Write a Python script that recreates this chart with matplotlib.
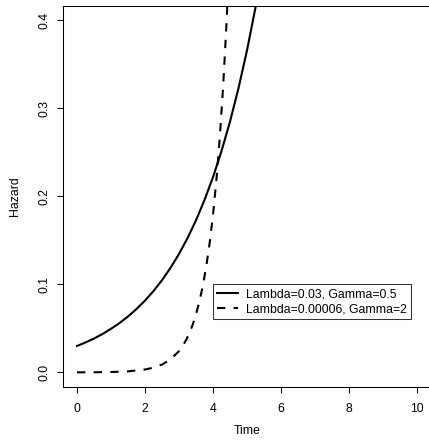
import matplotlib
matplotlib.use("Agg")
import matplotlib.pyplot as plt

plt.rcParams['font.family'] = ['Liberation Sans', 'DejaVu Sans']

# hazard values
time1 = [0, 0.25, 0.5, 0.75, 1, 1.25, 1.5, 1.75, 2, 2.25, 2.5, 2.75, 3,
         3.25, 3.5, 3.75, 4, 4.25, 4.5, 4.75, 5, 5.25, 5.5]
haz1 = [0.030, 0.034, 0.0385, 0.0436, 0.0495, 0.0560, 0.0635, 0.0720, 0.0815,
        0.0924, 0.1047, 0.1187, 0.1345, 0.1524, 0.1727, 0.1957, 0.2217,
        0.2513, 0.2847, 0.3227, 0.3656, 0.4143, 0.4695]

time2 = [0, 0.5, 1, 1.5, 2, 2.25, 2.5, 2.75, 3, 3.1, 3.2, 3.3, 3.4, 3.5,
         3.6, 3.7, 3.8, 3.9, 4, 4.1, 4.2, 4.3, 4.4, 4.5]
haz2 = [0.00006, 0.00016, 0.00044, 0.0012, 0.0033, 0.0054, 0.0089, 0.0147,
        0.0242, 0.0296, 0.0361, 0.0441, 0.0539, 0.0658, 0.0804, 0.0982,
        0.1199, 0.1465, 0.1789, 0.2185, 0.2669, 0.3260, 0.3982, 0.4863]

labels = ["Lambda=0.03, Gamma=0.5", "Lambda=0.00006, Gamma=2"]
xticks = [0, 2, 4, 6, 8, 10]
yticks = [0.0, 0.1, 0.2, 0.3, 0.4]

fs = 8.8

fig = plt.figure(figsize=(4.29, 4.44), dpi=100)
ax = fig.add_axes([63.4/429, 57.5/444, 367.2/429, 380.5/444])

ax.plot(time1, haz1, color='black', lw=1.5, label=labels[0])
ax.plot(time2, haz2, color='black', lw=1.5, dashes=(4, 4), label=labels[1])

ax.set_xlim(-0.4, 10.4)
ax.set_ylim(-0.016, 0.416)
ax.set_xticks(xticks)
ax.set_xticklabels([str(t) for t in xticks])
ax.set_yticks(yticks)
ax.set_yticklabels([f"{t:.1f}" for t in yticks], rotation=90, va='center')
ax.tick_params(direction='out', length=4.5, width=0.75, labelsize=fs)
ax.tick_params(axis='x', pad=7.5)
ax.tick_params(axis='y', pad=4.5)
for s in ax.spines.values():
    s.set_linewidth(0.75)

ax.set_xlabel("Time", fontsize=fs, labelpad=7)
ax.set_ylabel("Hazard", fontsize=fs, labelpad=13)

leg = ax.legend(loc='upper left', fontsize=fs, frameon=True,
                fancybox=False, edgecolor='black', handlelength=1.7,
                handletextpad=0.7, borderpad=0.35, labelspacing=0.2,
                borderaxespad=0)
leg.get_frame().set_linewidth(0.75)
leg.set_bbox_to_anchor((212.7/429, 1 - 284.3/444), transform=fig.transFigure)

fig.savefig("out.png", dpi=100)
